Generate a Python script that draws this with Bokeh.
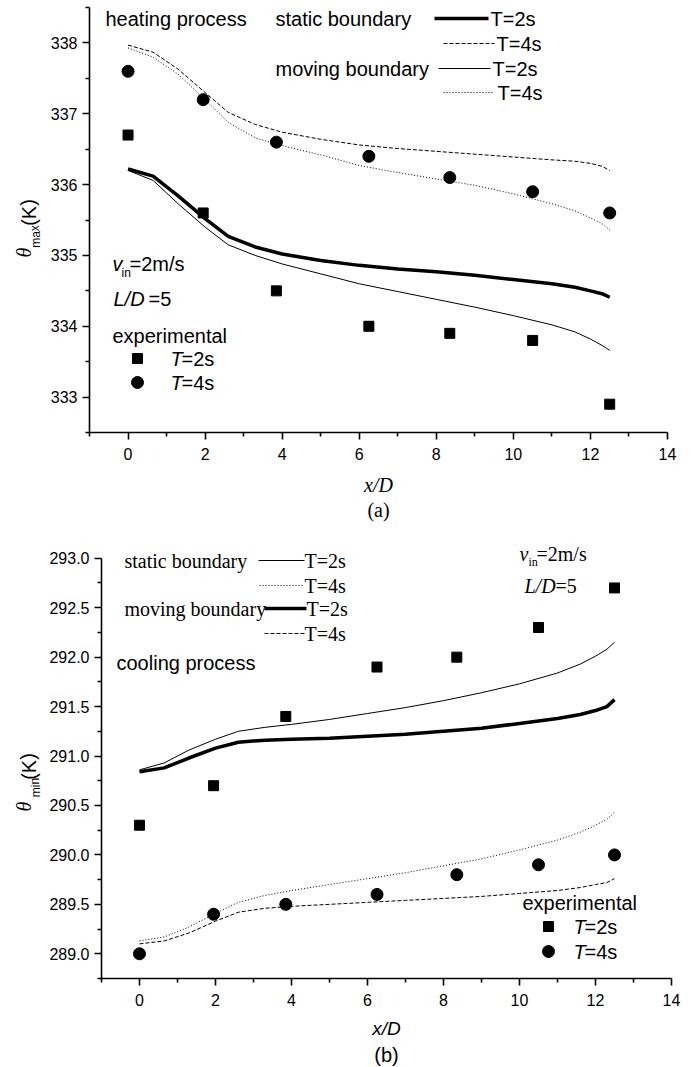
from bokeh.plotting import figure
from bokeh.models import Range1d, FixedTicker, PrintfTickFormatter, Label, Title
from bokeh.layouts import column, row
from bokeh.embed import file_html
from bokeh.resources import INLINE

# ---------------- data ----------------
x_exp = [0, 1.95, 3.85, 6.25, 8.35, 10.5, 12.5]
heat_exp_T2 = [336.7, 335.6, 334.5, 334.0, 333.9, 333.8, 332.9]
heat_exp_T4 = [337.6, 337.2, 336.6, 336.4, 336.1, 335.9, 335.6]
cool_exp_T2 = [290.3, 290.7, 291.4, 291.9, 292.0, 292.3, 292.7]
cool_exp_T4 = [289.0, 289.4, 289.5, 289.6, 289.8, 289.9, 290.0]

x_sim = [0, 0.65, 1.3, 2.0, 2.6, 3.3, 4.0, 5.0, 6.0, 7.0, 8.0, 9.0, 10.0, 11.0, 11.6, 12.0, 12.3, 12.5]
heat_static_T2 = [336.22, 336.12, 335.84, 335.52, 335.27, 335.12, 335.02, 334.93, 334.86, 334.81,
                  334.77, 334.72, 334.66, 334.60, 334.55, 334.50, 334.46, 334.41]
heat_static_T4 = [337.97, 337.87, 337.63, 337.30, 337.02, 336.85, 336.74, 336.64, 336.56, 336.51,
                  336.47, 336.43, 336.39, 336.35, 336.33, 336.30, 336.26, 336.20]
heat_moving_T2 = [336.20, 336.06, 335.73, 335.40, 335.15, 335.00, 334.88, 334.74, 334.60, 334.49,
                  334.38, 334.27, 334.15, 334.02, 333.92, 333.82, 333.73, 333.66]
heat_moving_T4 = [337.93, 337.80, 337.56, 337.20, 336.88, 336.66, 336.55, 336.42, 336.27, 336.17,
                  336.08, 335.99, 335.87, 335.73, 335.63, 335.53, 335.45, 335.36]
cool_static_T2 = [290.86, 290.93, 291.06, 291.17, 291.25, 291.29, 291.32, 291.37, 291.43, 291.49,
                  291.56, 291.64, 291.73, 291.84, 291.93, 292.01, 292.08, 292.15]
cool_static_T4 = [289.13, 289.17, 289.27, 289.41, 289.52, 289.59, 289.64, 289.70, 289.76, 289.82,
                  289.89, 289.96, 290.05, 290.15, 290.23, 290.30, 290.36, 290.43]
cool_moving_T2 = [290.84, 290.88, 290.98, 291.08, 291.14, 291.16, 291.17, 291.18, 291.20, 291.22,
                  291.25, 291.28, 291.33, 291.38, 291.42, 291.46, 291.50, 291.57]
cool_moving_T4 = [289.10, 289.13, 289.21, 289.33, 289.42, 289.46, 289.48, 289.50, 289.52, 289.54,
                  289.56, 289.58, 289.61, 289.64, 289.67, 289.70, 289.72, 289.76]

x_major = [0, 2, 4, 6, 8, 10, 12, 14]
x_minor = [-1, 1, 3, 5, 7, 9, 11, 13]
heat_y_major = [333, 334, 335, 336, 337, 338]
heat_y_minor = [332.5, 333.5, 334.5, 335.5, 336.5, 337.5, 338.5]
cool_y_major = [289.0, 289.5, 290.0, 290.5, 291.0, 291.5, 292.0, 292.5, 293.0]
cool_y_minor = [288.75, 289.25, 289.75, 290.25, 290.75, 291.25, 291.75, 292.25, 292.75]

SANS = "Liberation Sans"
SERIF = "Liberation Serif"


def make_fig(fw, fh, ml, mr, mt, mb, xr, yr, ybounds, xt, xm, yt, ym, yfmt=None):
    p = figure(frame_width=fw, frame_height=fh, x_range=Range1d(*xr), y_range=Range1d(*yr),
               output_backend="svg", toolbar_location=None,
               min_border_left=ml, min_border_right=mr, min_border_top=mt, min_border_bottom=mb)
    p.grid.visible = False
    p.outline_line_color = None
    p.xaxis.ticker = FixedTicker(ticks=xt, minor_ticks=xm)
    p.yaxis.ticker = FixedTicker(ticks=yt, minor_ticks=ym)
    p.yaxis.bounds = ybounds
    if yfmt:
        p.yaxis.formatter = PrintfTickFormatter(format=yfmt)
    for ax in (p.xaxis[0], p.yaxis[0]):
        ax.axis_line_width = 1.6
        ax.axis_line_color = "black"
        ax.major_tick_line_width = 1.6
        ax.minor_tick_line_width = 1.6
        ax.major_tick_line_color = "black"
        ax.minor_tick_line_color = "black"
        ax.major_tick_in = 0
        ax.major_tick_out = 7
        ax.minor_tick_in = 0
        ax.minor_tick_out = 4
        ax.major_label_text_font = SANS
        ax.major_label_text_font_size = "16px"
        ax.major_label_text_color = "black"
        ax.axis_label_text_color = "black"
    p.yaxis.major_label_standoff = 5
    p.xaxis.major_label_standoff = 8
    return p


def label_fig(w, h):
    f = figure(frame_width=w, frame_height=h, x_range=Range1d(0, w), y_range=Range1d(0, h),
               output_backend="svg", toolbar_location=None, x_axis_type=None, y_axis_type=None,
               min_border_left=0, min_border_right=0, min_border_top=0, min_border_bottom=0)
    f.grid.visible = False
    f.outline_line_color = None
    return f


def mk_conv(x0, fw, y0, fh, xr, yr):
    def cx(X):
        return xr[0] + (X - x0) * (xr[1] - xr[0]) / fw

    def cy(Y):
        return yr[1] - (Y - y0) * (yr[1] - yr[0]) / fh
    return cx, cy


def put(p, cx, cy, X, Y, s, font=SANS, size="20px", style="normal", align="left", angle=0):
    p.add_layout(Label(x=cx(X), y=cy(Y), text=s, text_font=font, text_font_size=size,
                       text_font_style=style, text_align=align, text_baseline="middle",
                       angle=angle, text_color="black"))


def seg(p, cx, cy, X1, X2, Y, **kw):
    p.line([cx(X1), cx(X2)], [cy(Y), cy(Y)], color="black", **kw)


THICK = dict(line_width=3.5)
THIN = dict(line_width=1.0)
DASH = dict(line_width=1.0, line_dash="4 2")
DOT = dict(line_width=1.0, line_dash="1 2")

LW = 46          # width of the strip holding the vertical axis titles
xr = (-1, 14)

# ---------------- (a) heating ----------------
yr1 = (332.5, 338.6)
H1 = 532
p1 = make_fig(578, 432, 89 - LW, 24, 0, H1 - 432, xr, yr1, (332.5, 338.5),
              x_major, x_minor, heat_y_major, heat_y_minor)
cx, cy = mk_conv(89, 578, 0, 432, xr, yr1)

p1.line(x_sim, heat_static_T2, color="black", **THICK)
p1.line(x_sim, heat_static_T4, color="black", **DASH)
p1.line(x_sim, heat_moving_T2, color="black", **THIN)
p1.line(x_sim, heat_moving_T4, color="black", **DOT)
p1.scatter(x_exp, heat_exp_T2, marker="square", size=10, color="black")
p1.scatter(x_exp, heat_exp_T4, marker="circle", size=12, color="black")

p1.xaxis.axis_label = "x/D"
p1.xaxis.axis_label_text_font = SERIF
p1.xaxis.axis_label_text_font_style = "italic"
p1.xaxis.axis_label_text_font_size = "20px"
p1.xaxis.axis_label_standoff = 11
p1.add_layout(Title(text="(a)", align="center", offset=20, standoff=-4, text_font=SERIF,
                    text_font_size="20px", text_font_style="normal", text_color="black"), "below")

put(p1, cx, cy, 105, 18, "heating process")
put(p1, cx, cy, 275, 18, "static boundary")
seg(p1, cx, cy, 434, 488, 18, **THICK)
put(p1, cx, cy, 490, 18, "T=2s")
seg(p1, cx, cy, 443, 494, 43, **DASH)
put(p1, cx, cy, 496, 43, "T=4s")
put(p1, cx, cy, 275, 68, "moving boundary")
seg(p1, cx, cy, 438, 490, 68, **THIN)
put(p1, cx, cy, 492, 68, "T=2s")
seg(p1, cx, cy, 443, 494, 92, **DOT)
put(p1, cx, cy, 497, 92, "T=4s")

put(p1, cx, cy, 112, 263, "v", style="italic")
put(p1, cx, cy, 121, 272, "in", size="12px")
put(p1, cx, cy, 129, 263, "=2m/s")
put(p1, cx, cy, 113, 298, "L/D", style="italic")
put(p1, cx, cy, 148, 298, "=5")
put(p1, cx, cy, 112, 335, "experimental")
p1.scatter([cx(137)], [cy(358)], marker="square", size=10, color="black")
put(p1, cx, cy, 170, 358, "T", style="italic")
put(p1, cx, cy, 181, 358, "=2s")
p1.scatter([cx(137)], [cy(382)], marker="circle", size=12, color="black")
put(p1, cx, cy, 170, 382, "T", style="italic")
put(p1, cx, cy, 181, 382, "=4s")

# vertical title strip for (a): theta_max(K)
l1 = label_fig(LW, H1)
lx1, ly1 = mk_conv(0, LW, 0, H1, (0, LW), (0, H1))
put(l1, lx1, ly1, 23, 252, "θ", font=SERIF, style="italic", align="center", angle=1.5708)
put(l1, lx1, ly1, 35, 236, "max", size="12px", align="center", angle=1.5708)
put(l1, lx1, ly1, 28, 212, "(K)", align="center", angle=1.5708)

# ---------------- (b) cooling ----------------
yr2 = (288.75, 293.2)
F2T = 538            # page y of frame top
T2 = F2T - H1        # top border
H2 = 1066 - H1
p2 = make_fig(570, 440, 100 - LW, 21, T2, H2 - T2 - 440, xr, yr2, (288.75, 293.0),
              x_major, x_minor, cool_y_major, cool_y_minor, "%.1f")
cx2, cy2 = mk_conv(100, 570, F2T, 440, xr, yr2)

p2.line(x_sim, cool_static_T2, color="black", **THIN)
p2.line(x_sim, cool_static_T4, color="black", **DOT)
p2.line(x_sim, cool_moving_T2, color="black", **THICK)
p2.line(x_sim, cool_moving_T4, color="black", **DASH)
p2.scatter(x_exp, cool_exp_T2, marker="square", size=10, color="black")
p2.scatter(x_exp, cool_exp_T4, marker="circle", size=12, color="black")

p2.xaxis.axis_label = "x/D"
p2.xaxis.axis_label_text_font = SANS
p2.xaxis.axis_label_text_font_style = "italic"
p2.xaxis.axis_label_text_font_size = "19px"
p2.xaxis.axis_label_standoff = 9
p2.add_layout(Title(text="(b)", align="center", offset=20, standoff=0, text_font=SANS,
                    text_font_size="20px", text_font_style="normal", text_color="black"), "below")

put(p2, cx2, cy2, 123, 560, "static boundary", font=SERIF)
seg(p2, cx2, cy2, 257, 303, 560, **THIN)
put(p2, cx2, cy2, 303, 560, "T=2s", font=SERIF)
seg(p2, cx2, cy2, 258, 303, 585, **DOT)
put(p2, cx2, cy2, 303, 585, "T=4s", font=SERIF)
put(p2, cx2, cy2, 123, 608, "moving boundary", font=SERIF)
seg(p2, cx2, cy2, 263, 305, 608, **THICK)
put(p2, cx2, cy2, 305, 608, "T=2s", font=SERIF)
seg(p2, cx2, cy2, 263, 303, 633, **DASH)
put(p2, cx2, cy2, 303, 633, "T=4s", font=SERIF)
put(p2, cx2, cy2, 115, 662, "cooling process")

put(p2, cx2, cy2, 518, 553, "v", font=SERIF, style="italic")
put(p2, cx2, cy2, 527, 561, "in", font=SERIF, size="12px")
put(p2, cx2, cy2, 535, 553, "=2m/s", font=SERIF)
put(p2, cx2, cy2, 523, 585, "L/D", font=SERIF, style="italic")
put(p2, cx2, cy2, 554, 585, "=5", font=SERIF)

put(p2, cx2, cy2, 521, 902, "experimental")
p2.scatter([cx2(547)], [cy2(926)], marker="square", size=10, color="black")
put(p2, cx2, cy2, 572, 926, "T", style="italic")
put(p2, cx2, cy2, 583, 926, "=2s")
p2.scatter([cx2(547)], [cy2(951)], marker="circle", size=12, color="black")
put(p2, cx2, cy2, 572, 951, "T", style="italic")
put(p2, cx2, cy2, 583, 951, "=4s")

# vertical title strip for (b): theta_min(K)
l2 = label_fig(LW, H2)
lx2, ly2 = mk_conv(0, LW, H1, H2, (0, LW), (0, H2))
put(l2, lx2, ly2, 23, 800, "θ", font=SERIF, style="italic", align="center", angle=1.5708)
put(l2, lx2, ly2, 35, 781, "min", size="12px", align="center", angle=1.5708)
put(l2, lx2, ly2, 28, 760, "(K)", align="center", angle=1.5708)

layout = column(row(l1, p1), row(l2, p2))
open("out.html", "w").write(file_html(layout, INLINE))
